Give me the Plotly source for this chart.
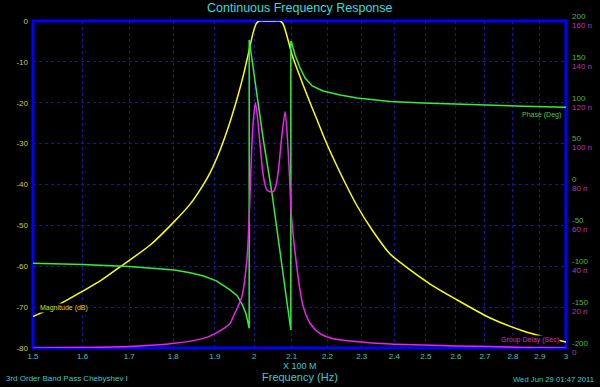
import math
import plotly.graph_objects as go

# ---------------- data (frequency in units of 100 MHz) ----------------
mag_f = [1.500, 1.554, 1.600, 1.637, 1.683, 1.747, 1.804, 1.840, 1.864, 1.888,
         1.913, 1.938, 1.958, 1.974, 1.987, 1.997, 2.005, 2.013, 2.030, 2.050,
         2.068, 2.0766, 2.0847, 2.0929, 2.1010, 2.1147, 2.1314, 2.1509, 2.1705, 2.1933,
         2.2163, 2.2511, 2.2865, 2.3315, 2.3865, 2.4496, 2.5141, 2.6005, 2.7181, 2.8377,
         2.9319, 3.000]
mag_db = [-72.3, -69.2, -66.1, -63.6, -59.9, -54.8, -48.9, -44.8, -41.3, -37.2,
          -31.6, -24.7, -18.3, -12.5, -7.1, -2.9, -0.7, 0.0, 0.0, 0.0,
          0.0, -0.73, -2.94, -5.63, -8.32, -11.74, -15.66, -20.06, -24.22, -29.11,
          -33.52, -39.63, -45.26, -51.13, -57.0, -60.9, -64.35, -68.1, -72.66, -75.84,
          -77.55, -78.53]

ph_f = [1.500, 1.600, 1.700, 1.747, 1.803, 1.840, 1.872, 1.904, 1.9207, 1.938,
        1.956, 1.9686, 1.9789, 1.987, 1.987, 2.024, 2.0462, 2.0711, 2.0975, 2.0975,
        2.1002, 2.109, 2.123, 2.1368, 2.1565, 2.1875, 2.2364, 2.2865, 2.3865, 2.4912,
        2.6038, 2.7181, 2.8377, 3.000]
ph_deg = [-96.4, -97.9, -100.4, -102.7, -104.6, -108.0, -112.0, -117.9, -123.0, -129.0,
          -136.0, -146.2, -158.4, -175.9, 176.8, 54.4, -9.2, -94.8, -178.0, 175.6,
          173.0, 158.4, 142.5, 130.3, 120.5, 114.4, 109.5, 105.8, 101.5, 99.7,
          98.1, 96.9, 95.8, 94.4]

gd_f = [1.500, 1.600, 1.700, 1.803, 1.872, 1.902, 1.938, 1.946, 1.968, 1.981,
        1.987, 1.991, 1.994, 1.998, 2.003, 2.009, 2.015, 2.024, 2.033, 2.042,
        2.0505, 2.058, 2.064, 2.073, 2.082, 2.088, 2.094, 2.098, 2.109, 2.123,
        2.132, 2.151, 2.179, 2.217, 2.286, 2.387, 2.492, 2.603, 2.718, 2.839, 3.000]
gd_ns = [0.0, 0.2, 0.7, 2.3, 4.7, 7.2, 12.0, 15.3, 25.0, 43.0,
         64.0, 85.0, 100.0, 112.0, 120.0, 112.0, 100.0, 84.0, 77.3, 76.5,
         76.5, 80.0, 87.0, 103.4, 115.6, 103.4, 83.8, 67.5, 47.0, 28.0,
         20.0, 12.0, 7.0, 4.5, 3.1, 2.0, 1.5, 1.0, 0.7, 0.3, 0.0]

x_ticks = [1.5, 1.6, 1.7, 1.8, 1.9, 2.0, 2.1, 2.2, 2.3, 2.4, 2.5, 2.6, 2.7, 2.8, 2.9, 3.0]
x_tick_text = ["1.5", "1.6", "1.7", "1.8", "1.9", "2", "2.1", "2.2", "2.3", "2.4",
               "2.5", "2.6", "2.7", "2.8", "2.9", "3"]
mag_ticks = [0, -10, -20, -30, -40, -50, -60, -70, -80]
mag_tick_text = ["0", "-10", "-20", "-30", "-40", "-50", "-60", "-70", "-80"]
ph_ticks = [200, 150, 100, 50, 0, -50, -100, -150, -200]
ph_tick_text = ["200", "150", "100", "50", "0", "-50", "-100", "-150", "-200"]
gd_ticks = [160, 140, 120, 100, 80, 60, 40, 20, 0]
gd_tick_text = ["160 n", "140 n", "120 n", "100 n", "80 n", "60 n", "40 n", "20 n", "0"]

# ---------------- styles ----------------
FONT = "Liberation Sans, Arial, sans-serif"
YEL = "#ffff00"
GRN = "#33ee33"
MAG = "#ee22ee"
CYAN = "#33cccc"
GRID = "#1414a0"

fig = go.Figure()
fig.add_trace(go.Scatter(x=mag_f, y=mag_db, mode="lines", yaxis="y",
                         line=dict(color=YEL, width=1.5, shape="spline", smoothing=0.6),
                         hoverinfo="skip", showlegend=False))
fig.add_trace(go.Scatter(x=gd_f, y=gd_ns, mode="lines", yaxis="y3",
                         line=dict(color=MAG, width=1.5, shape="spline", smoothing=0.7),
                         hoverinfo="skip", showlegend=False))
fig.add_trace(go.Scatter(x=ph_f, y=ph_deg, mode="lines", yaxis="y2",
                         line=dict(color=GRN, width=1.5),
                         hoverinfo="skip", showlegend=False))

fig.update_layout(
    width=600, height=387,
    paper_bgcolor="black", plot_bgcolor="black",
    margin=dict(l=33, r=34, t=21, b=39, autoexpand=False),
    showlegend=False,
    xaxis=dict(type="log", range=[math.log10(1.5), math.log10(3.0)],
               tickvals=x_ticks, ticktext=x_tick_text,
               tickfont=dict(family=FONT, size=8, color=CYAN),
               showgrid=True, gridcolor=GRID, griddash="dot", gridwidth=1,
               zeroline=False, showline=False, ticks="", ticklabelstandoff=2),
    yaxis=dict(range=[-80, 0], tickvals=mag_ticks, ticktext=mag_tick_text,
               tickfont=dict(family=FONT, size=8, color="#c8c84a"),
               showgrid=True, gridcolor=GRID, griddash="dot", gridwidth=1,
               zeroline=False, showline=False, ticks="", ticklabelstandoff=4),
    yaxis2=dict(range=[-200, 200], tickvals=ph_ticks, ticktext=ph_tick_text,
                overlaying="y", side="right",
                anchor="x", tickfont=dict(family=FONT, size=8, color="#44bb44"),
                showgrid=False, zeroline=False, showline=False, ticks="",
                ticklabelstandoff=5, ticklabelshift=-5),
    yaxis3=dict(range=[0, 160], tickvals=gd_ticks, ticktext=gd_tick_text,
                overlaying="y", side="right", anchor="x",
                tickfont=dict(family=FONT, size=8, color="#bb33bb"),
                showgrid=False, zeroline=False, showline=False, ticks="",
                ticklabelstandoff=5, ticklabelshift=4),
)

fig.add_shape(type="rect", xref="paper", yref="paper", x0=0, x1=1, y0=0, y1=1,
              line=dict(color="#0000ff", width=3), layer="between")

ann = []
ann.append(dict(text="Continuous Frequency Response", xref="paper", yref="paper",
                x=0.5, y=1, yshift=13, xanchor="center", yanchor="middle", showarrow=False,
                font=dict(family=FONT, size=12.5, color="#33dddd")))
ann.append(dict(text="X 100 M", xref="paper", yref="paper", x=0.5, y=0, yshift=-18,
                xanchor="center", yanchor="middle", showarrow=False,
                font=dict(family=FONT, size=9, color=CYAN)))
ann.append(dict(text="Frequency (Hz)", xref="paper", yref="paper", x=0.5, y=0, yshift=-29,
                xanchor="center", yanchor="middle", showarrow=False,
                font=dict(family=FONT, size=11, color=CYAN)))
ann.append(dict(text="3rd Order Band Pass Chebyshev I", xref="paper", yref="paper",
                x=0, y=0, xshift=-29, yshift=-30, xanchor="left", yanchor="middle",
                showarrow=False, font=dict(family=FONT, size=8, color=CYAN)))
ann.append(dict(text="Wed Jun 29 01:47 2011", xref="paper", yref="paper",
                x=1, y=0, xshift=30, yshift=-31, xanchor="right", yanchor="middle",
                showarrow=False, font=dict(family=FONT, size=7.7, color=CYAN)))
ann.append(dict(text="Magnitude (dB)", xref="paper", yref="y", x=0, xshift=6, y=-70.2,
                xanchor="left", yanchor="middle", showarrow=False, bgcolor="black",
                borderpad=0, font=dict(family=FONT, size=7, color="#dddd33")))
ann.append(dict(text="Phase (Deg)", xref="paper", yref="y2", x=1, xshift=-4, y=85,
                xanchor="right", yanchor="middle", showarrow=False,
                borderpad=0, font=dict(family=FONT, size=7, color="#44cc44")))
ann.append(dict(text="Group Delay (Sec)", xref="paper", yref="y3", x=1, xshift=-6, y=3.9,
                xanchor="right", yanchor="middle", showarrow=False, bgcolor="black",
                borderpad=0, font=dict(family=FONT, size=7, color="#cc33cc")))
fig.update_layout(annotations=ann)

fig.write_html("out.html", config={"displayModeBar": False},
               post_script="document.body.style.margin='0px';document.body.style.background='black';")
